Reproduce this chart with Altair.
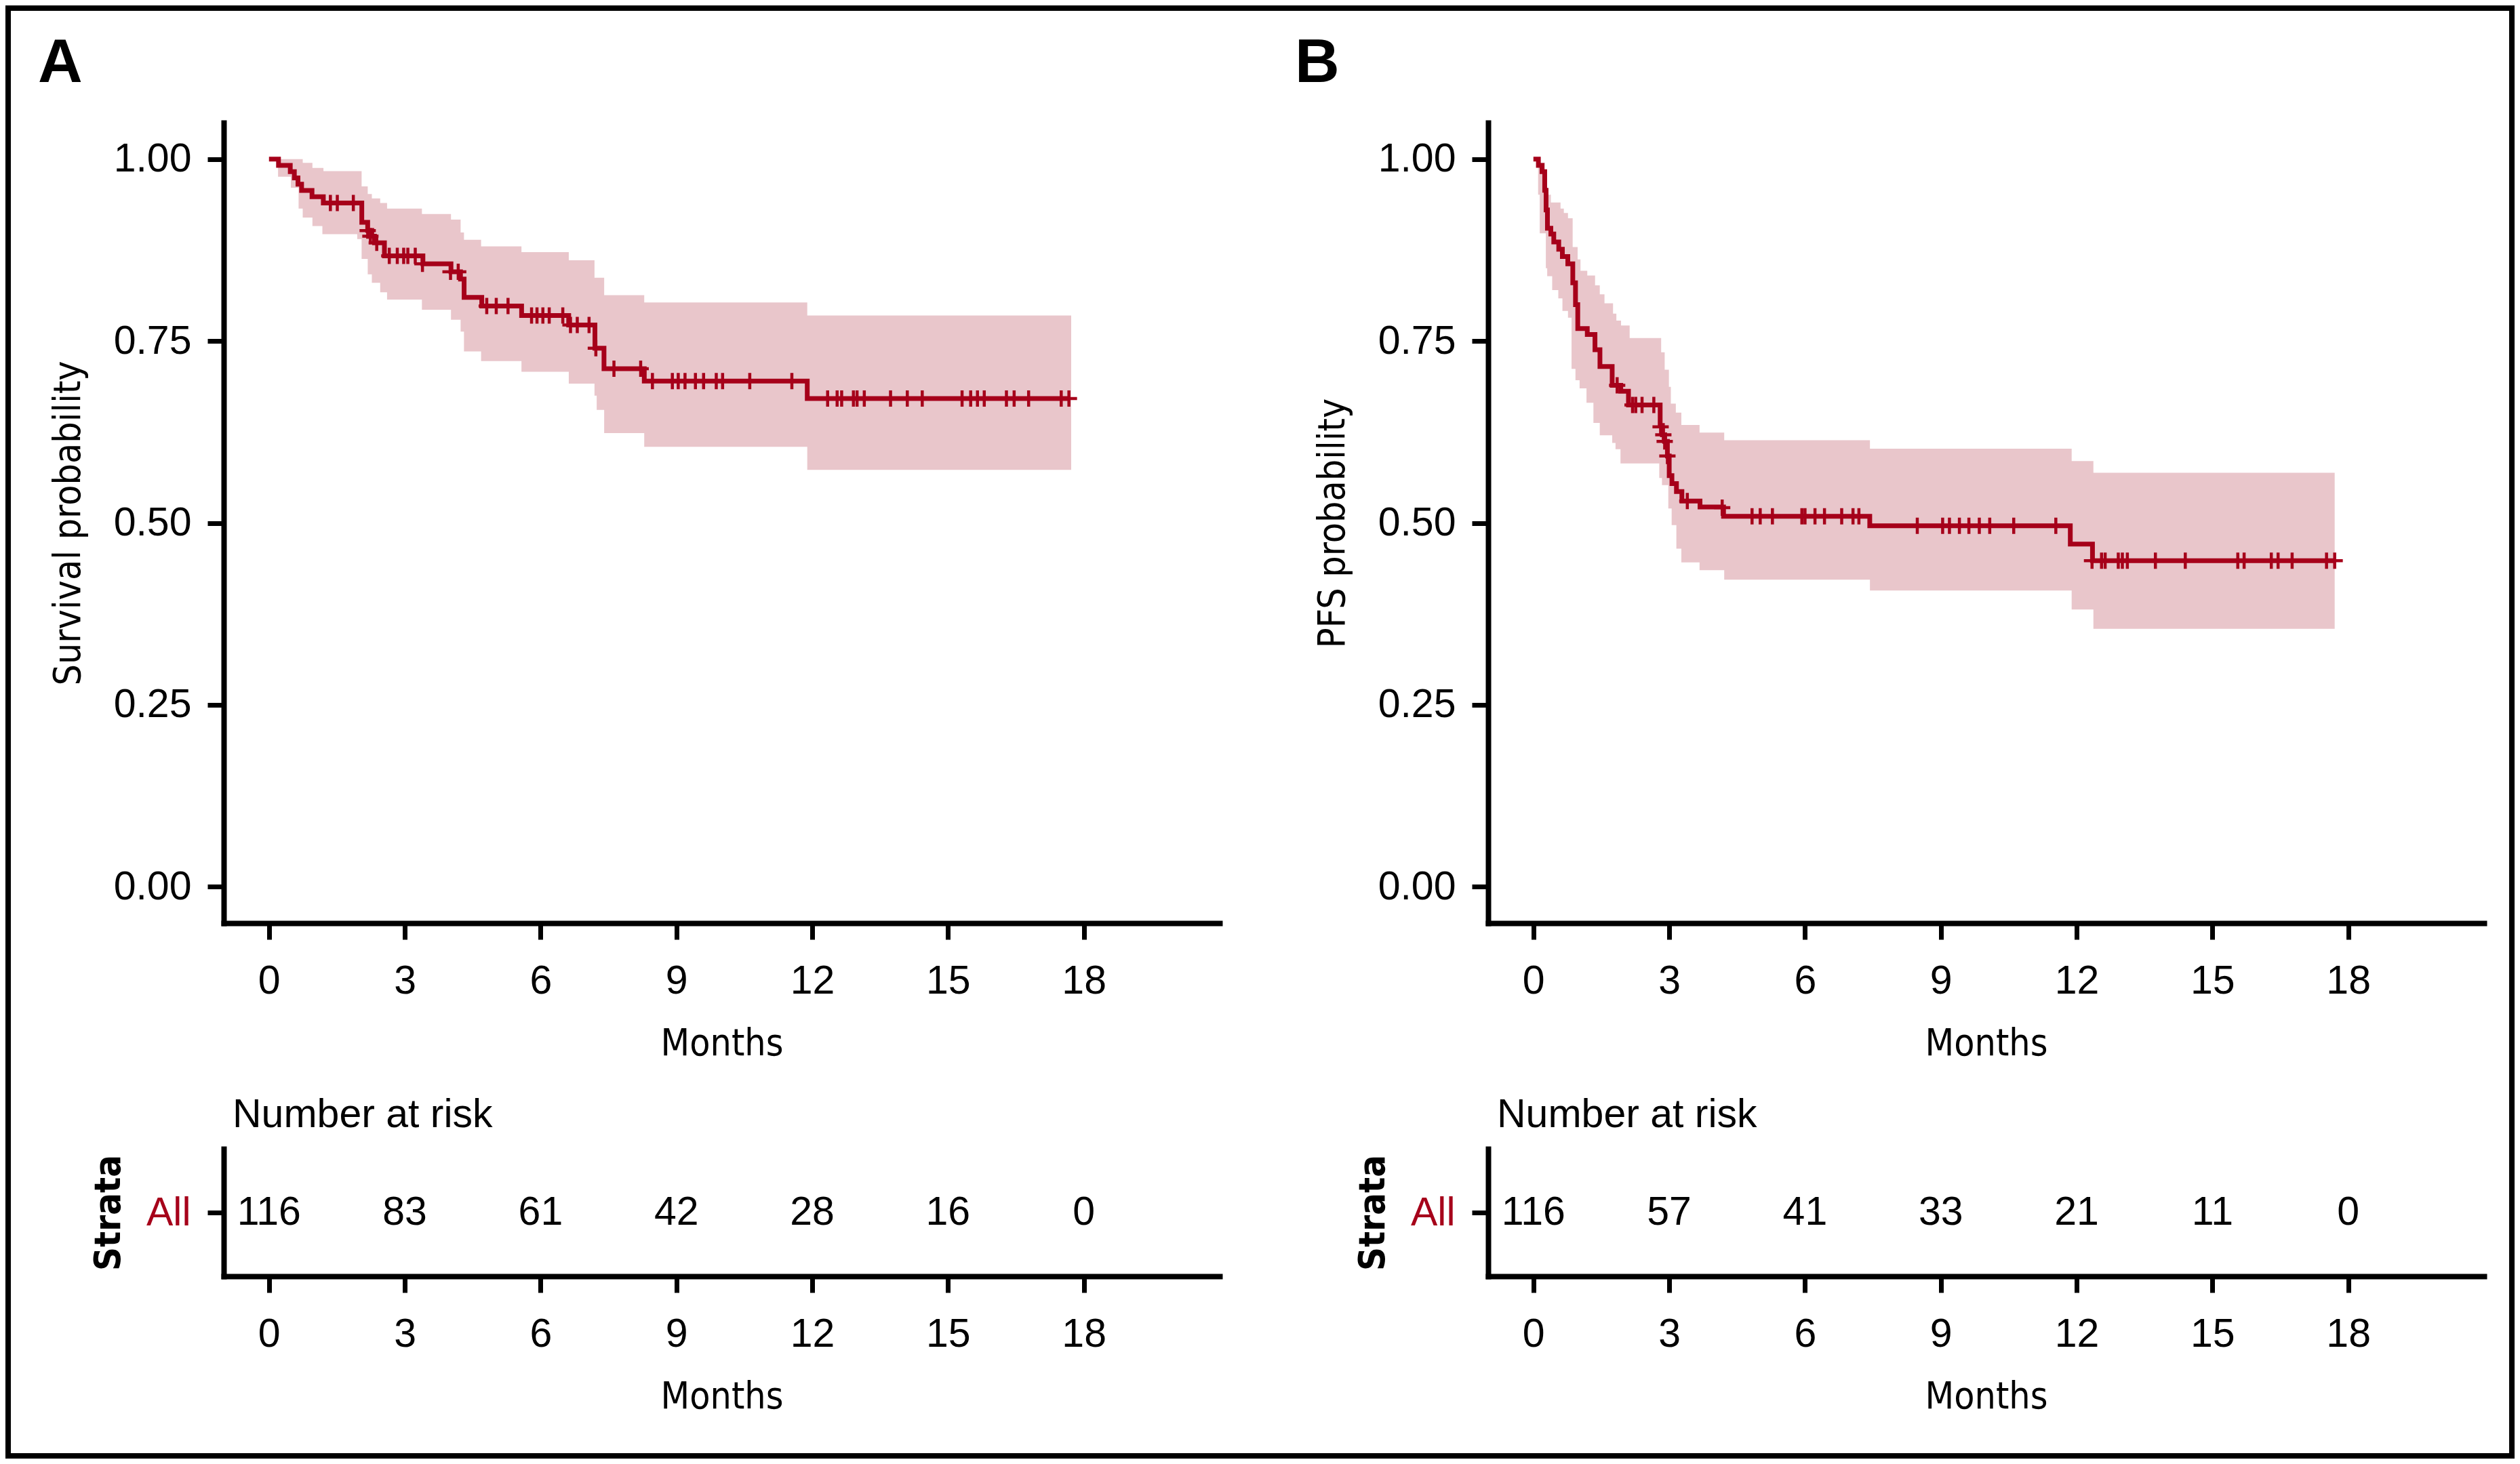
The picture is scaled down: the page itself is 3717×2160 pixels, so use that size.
import altair as alt
import pandas as pd

RED = "#A6001A"
CI_FILL = "#E9C6CB"
LABEL_FONT = "Liberation Sans"
TITLE_FONT = "'DejaVu Sans Condensed', 'Liberation Sans Narrow', sans-serif"

# ---------------- Panel A: overall survival ----------------
a_step_t = [0, 0.21, 0.47, 0.56, 0.64, 0.72, 0.95, 1.2, 2.05, 2.18, 2.27, 2.33, 2.55,
            3.40, 4.02, 4.23, 4.31, 4.70, 5.58, 6.62, 7.20, 7.40, 8.29, 11.89, 17.67]
a_step_s = [1.0, 0.9914, 0.9828, 0.9741, 0.9655, 0.9569, 0.9483, 0.9397, 0.913, 0.902, 0.894,
            0.885, 0.867, 0.856, 0.845, 0.835, 0.810, 0.798, 0.785, 0.772, 0.740, 0.712, 0.695,
            0.671, 0.671]
a_ci_t = [0.2, 0.483, 0.654, 0.745, 0.959, 1.179, 1.203, 1.949, 2.046, 2.181, 2.272, 2.456,
          2.608, 3.378, 4.02, 4.233, 4.307, 4.685, 5.577, 6.622, 7.19, 7.239, 7.404, 8.289,
          11.89, 17.72]
a_ci_lo = [0.9757, 0.9605, 0.932, 0.9195, 0.908, 0.8967, 0.8967, 0.890, 0.8628, 0.8416, 0.830,
           0.8169, 0.807, 0.793, 0.7793, 0.763, 0.7356, 0.7223, 0.7078, 0.6915, 0.6748, 0.6554,
           0.6235, 0.6045, 0.573, 0.573]
a_ci_hi = [1.0, 1.0, 1.0, 0.9947, 0.9878, 0.9878, 0.9833, 0.9833, 0.9624, 0.952, 0.946, 0.9396,
           0.932, 0.9244, 0.9168, 0.899, 0.889, 0.880, 0.872, 0.861, 0.837, 0.837, 0.813, 0.803,
           0.785, 0.785]
a_cens_t = [1.356, 1.509, 1.863, 2.18, 2.24, 2.38, 2.657, 2.834, 2.975, 3.067, 3.231, 3.39,
            4.01, 4.18, 4.81, 5.02, 5.28, 5.80, 5.92, 6.05, 6.19, 6.49, 6.66, 6.81, 7.07, 7.22,
            7.62, 8.21,
            8.47, 8.91, 9.04, 9.19, 9.42, 9.6, 9.88, 10.02, 10.62, 11.55,
            12.34, 12.55, 12.65, 12.91, 12.99, 13.15, 13.73, 14.1, 14.43, 15.31, 15.5, 15.65,
            15.8, 16.29, 16.46, 16.78, 17.5, 17.67]
a_cens_s = [0.9397, 0.9397, 0.9397, 0.9016, 0.894, 0.885, 0.867, 0.867, 0.867, 0.867, 0.867,
            0.856, 0.845, 0.845, 0.798, 0.798, 0.798, 0.785, 0.785, 0.785, 0.785, 0.785, 0.772,
            0.772, 0.772, 0.740, 0.712, 0.712] + [0.695] * 10 + [0.671] * 18

# ---------------- Panel B: progression-free survival ----------------
b_step_t = [0, 0.11, 0.19, 0.25, 0.28, 0.31, 0.385, 0.45, 0.56, 0.64, 0.76, 0.87, 0.93, 0.98,
            1.19, 1.36, 1.47, 1.74, 1.93, 2.10, 2.80, 2.85, 2.90, 2.96, 3.00, 3.06, 3.16, 3.28,
            3.68, 4.20, 7.43, 11.86, 12.35, 17.7]
b_step_s = [1.0, 0.9914, 0.9828, 0.957, 0.930, 0.905, 0.897, 0.886, 0.876, 0.866, 0.856, 0.830,
            0.800, 0.767, 0.759, 0.738, 0.715, 0.689, 0.681, 0.662, 0.634, 0.621, 0.612, 0.592,
            0.565, 0.554, 0.543, 0.530, 0.522, 0.509, 0.496, 0.471, 0.448, 0.448]
b_ci_t = [0.104, 0.14, 0.257, 0.275, 0.305, 0.385, 0.415, 0.55, 0.599, 0.641, 0.672, 0.764,
          0.843, 0.867, 0.929, 0.977, 1.02, 1.04, 1.173, 1.19, 1.326, 1.362, 1.466, 1.57,
          1.741, 1.759, 1.814, 1.833, 1.924, 1.936, 2.126, 2.78, 2.822, 2.84, 2.90, 2.98,
          2.993, 3.036, 3.054, 3.146, 3.158, 3.268, 3.67, 4.215, 7.434, 11.89, 12.37, 17.7]
b_ci_lo = [0.951, 0.898, 0.898, 0.850, 0.839, 0.839, 0.820, 0.8085, 0.8085, 0.7914, 0.7914,
           0.782, 0.7116, 0.7116, 0.696, 0.696, 0.685, 0.685, 0.665, 0.665, 0.6375, 0.6375,
           0.6204, 0.6204, 0.610, 0.610, 0.6014, 0.6014, 0.5817, 0.5817, 0.5817, 0.5616,
           0.5616, 0.552, 0.552, 0.5197, 0.5197, 0.5197, 0.497, 0.497, 0.4647, 0.4457, 0.435,
           0.422, 0.407, 0.381, 0.3544, 0.3544]
b_ci_hi = [0.995, 0.995, 0.951, 0.951, 0.951, 0.9403, 0.9403, 0.9403, 0.932, 0.932, 0.926,
           0.9187, 0.9187, 0.879, 0.879, 0.862, 0.862, 0.8465, 0.8465, 0.840, 0.840, 0.8264,
           0.8142, 0.8017, 0.8017, 0.7876, 0.7876, 0.778, 0.778, 0.7713, 0.754, 0.754, 0.7344,
           0.7344, 0.7105, 0.7105, 0.687, 0.664, 0.664, 0.6516, 0.6516, 0.6345, 0.624, 0.6136,
           0.602, 0.585, 0.569, 0.569]
b_cens_t = [1.85, 2.19, 2.26, 2.40, 2.66, 2.81, 2.87, 2.90, 2.96, 3.40, 4.17,
            4.83, 5.01, 5.28, 5.93, 6.0, 6.22, 6.43, 6.81, 7.06, 7.19,
            8.48, 9.04, 9.19, 9.41, 9.62, 9.85, 10.08, 10.61, 11.54,
            12.34, 12.55, 12.63, 12.92, 13.01, 13.12, 13.74, 14.4, 15.56, 15.7, 16.3, 16.45,
            16.76, 17.52, 17.7]
b_cens_s = [0.689, 0.662, 0.662, 0.662, 0.662, 0.632, 0.621, 0.612, 0.592, 0.530, 0.521] + \
           [0.509] * 10 + [0.496] * 9 + [0.448] * 15

# ---------------- Number at risk ----------------
risk_times = [0, 3, 6, 9, 12, 15, 18]
a_risk = [116, 83, 61, 42, 28, 16, 0]
b_risk = [116, 57, 41, 33, 21, 11, 0]
strata = "All"

x_ticks = [0, 3, 6, 9, 12, 15, 18]
y_ticks = [0, 0.25, 0.5, 0.75, 1.0]

PLOT_W = 1469
KM_H = 1181
RISK_H = 188

x_scale = alt.Scale(domain=[-1, 21], nice=False, zero=False)
y_scale = alt.Scale(domain=[-0.05, 1.05], nice=False, zero=False)
x_axis = alt.Axis(values=x_ticks, title="Months", labelPadding=32, titlePadding=36,
                  labelFlush=False)

ONE = alt.Data(values=[{"k": 1}])


def label_text(txt, x, y, size, weight):
    return alt.Chart(ONE).mark_text(
        text=txt, align="left", baseline="alphabetic", fontSize=size, fontWeight=weight,
        font=LABEL_FONT, color="black",
    ).encode(x=alt.value(x), y=alt.value(y))


def km_chart(step_t, step_s, ci_t, ci_lo, ci_hi, cens_t, cens_s, ytitle, letter, letter_x,
             frame=False):
    y_axis = alt.Axis(values=y_ticks, format=".2f", title=ytitle, labelPadding=24,
                      titlePadding=38)
    df_ci = pd.DataFrame({"t": ci_t, "lo": ci_lo, "hi": ci_hi})
    df_step = pd.DataFrame({"t": step_t, "s": step_s})
    df_cens = pd.DataFrame({"t": cens_t, "s": cens_s})
    band = alt.Chart(df_ci).mark_area(interpolate="step-after", color=CI_FILL, opacity=1).encode(
        x=alt.X("t:Q", scale=x_scale, axis=x_axis),
        y=alt.Y("lo:Q", scale=y_scale, axis=y_axis),
        y2="hi:Q",
    )
    line = alt.Chart(df_step).mark_line(interpolate="step-after", color=RED, strokeWidth=7,
                                        strokeJoin="miter").encode(
        x=alt.X("t:Q", scale=x_scale, axis=x_axis),
        y=alt.Y("s:Q", scale=y_scale, axis=y_axis),
    )
    cens = alt.Chart(df_cens).mark_point(shape="M-1,0L1,0M0,-1L0,1", size=576, color=RED,
                                         strokeWidth=4.5, filled=False, opacity=1).encode(
        x=alt.X("t:Q", scale=x_scale, axis=x_axis),
        y=alt.Y("s:Q", scale=y_scale, axis=y_axis),
    )
    layers = [band, line, cens, label_text(letter, letter_x, -60, 91, "bold")]
    if frame:
        # outer black frame of the figure (pixel offsets from this panel's plot origin)
        edges = [(-322, 3379, -173, -165), (-322, 3379, 1963, 1971),
                 (-322, -314, -173, 1971), (3371, 3379, -173, 1971)]
        for x1, x2, y1, y2 in edges:
            layers.append(alt.Chart(ONE).mark_rect(color="black").encode(
                x=alt.value(x1), x2=alt.value(x2), y=alt.value(y1), y2=alt.value(y2)))
    return alt.layer(*layers).properties(width=PLOT_W, height=KM_H)


def risk_chart(counts):
    df = pd.DataFrame({"t": risk_times, "n": counts, "strata": [strata] * len(counts)})
    nums = alt.Chart(df).mark_text(fontSize=59, font=LABEL_FONT, color="black").encode(
        x=alt.X("t:Q", scale=x_scale, axis=x_axis),
        y=alt.Y("strata:N", axis=alt.Axis(title="Strata", labelColor=RED, labelPadding=25,
                                         titlePadding=28, titleFontWeight="bold",
                                         titleFontSize=54),
                scale=alt.Scale(paddingInner=0, paddingOuter=0)),
        text="n:Q",
    )
    head = label_text("Number at risk", 13, -32, 59, "normal")
    return alt.layer(nums, head).properties(width=PLOT_W, height=RISK_H)


km_a = km_chart(a_step_t, a_step_s, a_ci_t, a_ci_lo, a_ci_hi, a_cens_t, a_cens_s,
                "Survival probability", "A", -274, frame=True)
km_b = km_chart(b_step_t, b_step_s, b_ci_t, b_ci_lo, b_ci_hi, b_cens_t, b_cens_s,
                "PFS probability", "B", -285)
risk_a = risk_chart(a_risk)
risk_b = risk_chart(b_risk)

chart = alt.concat(km_a, km_b, risk_a, risk_b, columns=2,
                   spacing={"row": 333, "column": 396}, bounds="flush").properties(
    padding=0, background="white"
).configure_view(stroke=None).configure_axis(
    grid=False, domainColor="black", domainWidth=8, domainCap="square", tickColor="black",
    tickWidth=7, tickSize=24, labelFont=LABEL_FONT, labelFontSize=59, labelColor="black",
    titleFont=TITLE_FONT, titleFontSize=55, titleFontWeight="normal", titleColor="black",
)

chart.save("out.html", embed_options={"renderer": "svg", "actions": False})
